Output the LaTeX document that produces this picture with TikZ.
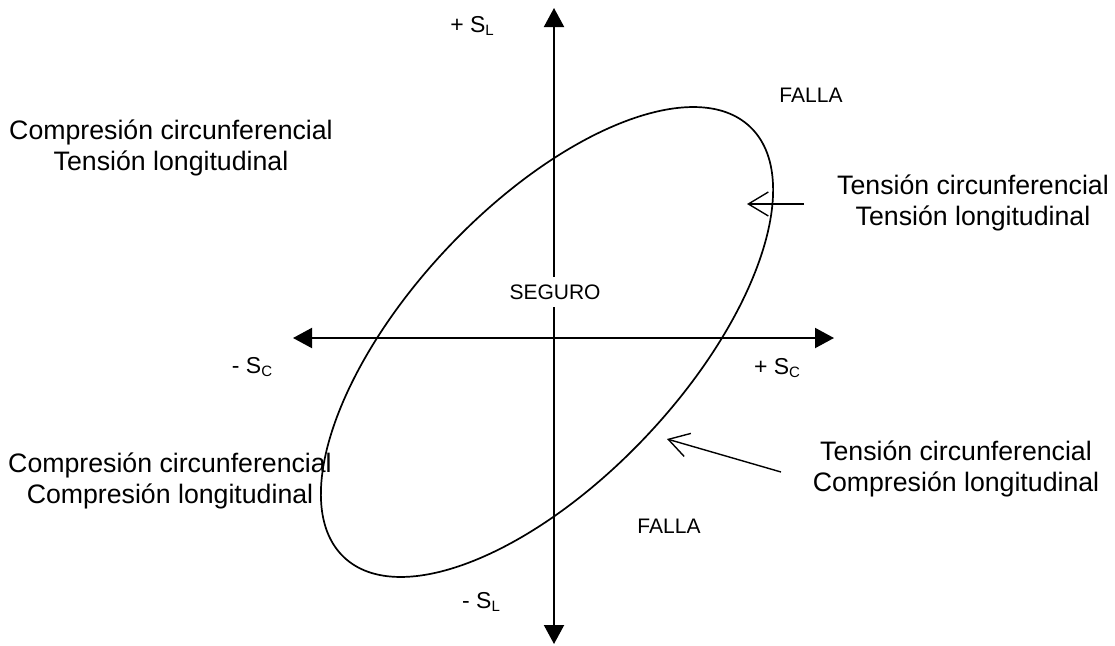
\documentclass[tikz,border=0pt]{standalone}
\usepackage{fontspec}
\setmainfont{Liberation Sans}
\usetikzlibrary{arrows.meta}
\newcommand{\mysub}[1]{\raisebox{-0.3ex}{\fontsize{15}{15}\selectfont #1}}
\begin{document}
\begin{tikzpicture}[x=1pt,y=-1pt,
  axisarrow/.style={line width=2pt, {Triangle[length=19pt,width=20pt]}-{Triangle[length=19pt,width=20pt]}},
  pointer/.style={line width=1.4pt, -{Straight Barb[length=20pt,width=24pt]}},
  big/.style={font=\fontsize{26.7}{30.5}\selectfont, align=center, inner sep=0pt},
  small/.style={font=\fontsize{21}{25}\selectfont, inner sep=0pt},
  axlabel/.style={font=\fontsize{23}{26}\selectfont, inner sep=0pt}]
\useasboundingbox (0,0) rectangle (1115,645);
% axes
\coordinate (vtop) at (554,8);
\coordinate (vbot) at (554,644);
\coordinate (hleft) at (293,338);
\coordinate (hright) at (834,338);
\draw[axisarrow] (vbot) -- (vtop);
\draw[axisarrow] (hleft) -- (hright);
% ellipse
\coordinate (c) at (547,342);
\draw[line width=1.7pt, rotate around={46.7:(c)}] (c) ellipse (295.9pt and 136.9pt);
% axis labels
\node[axlabel] (slp) at (472,26) {+ S\mysub{L}};
\node[axlabel] (slm) at (481,602) {- S\mysub{L}};
\node[axlabel] (scm) at (252,367) {- S\mysub{C}};
\node[axlabel] (scp) at (777,368) {+ S\mysub{C}};
% region labels
\node[small, fill=white, inner xsep=4pt, inner ysep=8pt] (seguro) at (555,292) {SEGURO};
\node[small] (falla1) at (811,95) {FALLA};
\node[small] (falla2) at (669,526) {FALLA};
\node[big] (q2) at (171,148) {Compresión circunferencial\\Tensión longitudinal};
\node[big] (q1) at (973,203) {Tensión circunferencial\\Tensión longitudinal};
\node[big] (q4) at (956,469) {Tensión circunferencial\\Compresión longitudinal};
\node[big] (q3) at (170,481) {Compresión circunferencial\\Compresión longitudinal};
% pointers
\coordinate (p1s) at (804,204);
\coordinate (p1e) at (747,204);
\coordinate (p2s) at (781,472);
\coordinate (p2e) at (667,439);
\draw[pointer] (p1s) -- (p1e);
\draw[pointer] (p2s) -- (p2e);
\end{tikzpicture}
\end{document}
